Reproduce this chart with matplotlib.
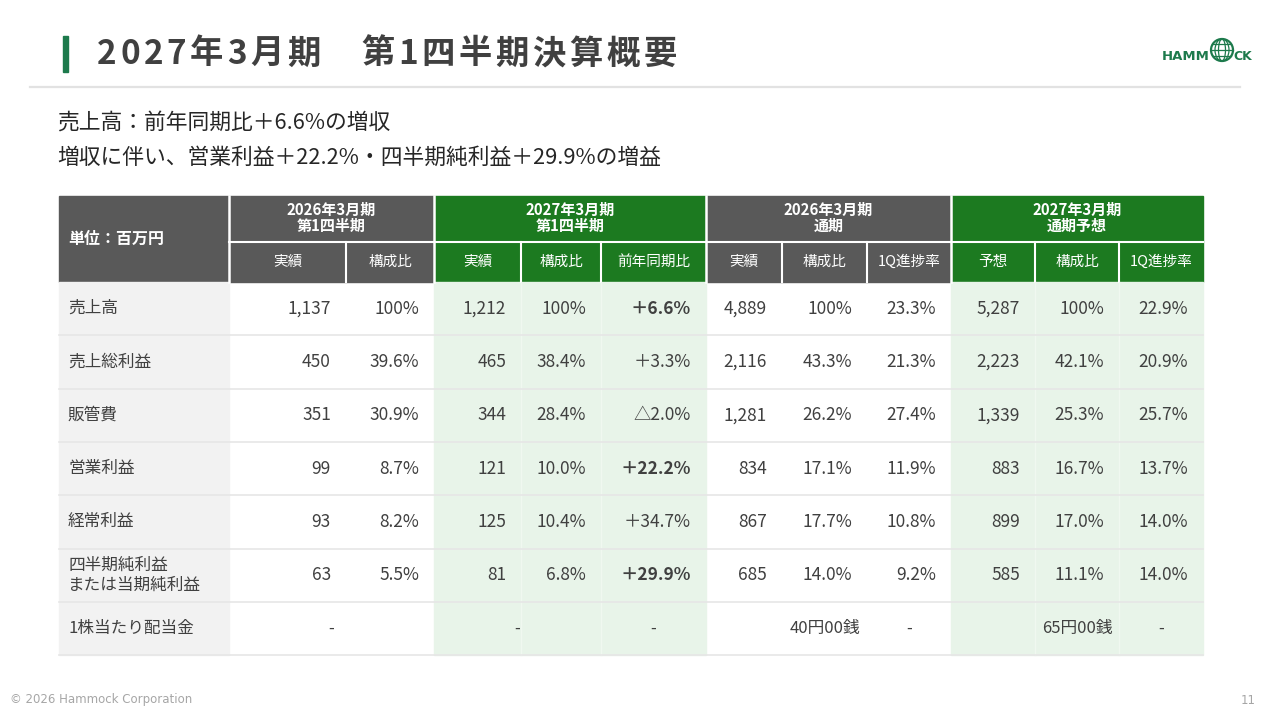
import matplotlib.pyplot as plt
from matplotlib.patches import Rectangle, Circle, Ellipse

plt.rcParams['font.family'] = ['Noto Sans CJK JP', 'DejaVu Sans']

# 表のデータ(単位:百万円)
row_labels = ['売上高', '売上総利益', '販管費', '営業利益', '経常利益',
              '四半期純利益\nまたは当期純利益', '1株当たり配当金']
q1_2026_actual = ['1,137', '450', '351', '99', '93', '63']
q1_2026_ratio = ['100%', '39.6%', '30.9%', '8.7%', '8.2%', '5.5%']
q1_2027_actual = ['1,212', '465', '344', '121', '125', '81']
q1_2027_ratio = ['100%', '38.4%', '28.4%', '10.0%', '10.4%', '6.8%']
q1_2027_yoy = ['＋6.6%', '＋3.3%', '△2.0%', '＋22.2%', '＋34.7%', '＋29.9%']
yoy_bold = [True, False, False, True, False, True]
fy2026_actual = ['4,889', '2,116', '1,281', '834', '867', '685']
fy2026_ratio = ['100%', '43.3%', '26.2%', '17.1%', '17.7%', '14.0%']
fy2026_progress = ['23.3%', '21.3%', '27.4%', '11.9%', '10.8%', '9.2%']
fy2027_forecast = ['5,287', '2,223', '1,339', '883', '899', '585']
fy2027_ratio = ['100%', '42.1%', '25.3%', '16.7%', '17.0%', '11.1%']
fy2027_progress = ['22.9%', '20.9%', '25.7%', '13.7%', '14.0%', '14.0%']
dividend_fy2026 = '40円00銭'
dividend_fy2027 = '65円00銭'

group_headers = ['2026年3月期\n第1四半期', '2027年3月期\n第1四半期',
                 '2026年3月期\n通期', '2027年3月期\n通期予想']
sub_headers = ['実績', '構成比', '実績', '構成比', '前年同期比',
               '実績', '構成比', '1Q進捗率', '予想', '構成比', '1Q進捗率']

title = '2027年3月期　第1四半期決算概要'
lead_lines = ['売上高：前年同期比＋6.6%の増収',
              '増収に伴い、営業利益＋22.2%・四半期純利益＋29.9%の増益']

# 色
DARK = '#404040'
GRAY_HEAD = '#595959'
GREEN_HEAD = '#1c7a20'
GREEN_LIGHT = '#e8f4e9'
LABEL_BG = '#f2f2f2'
ACCENT = '#1d7a4c'

fig = plt.figure(figsize=(12.8, 7.2), dpi=100)
ax = fig.add_axes([0, 0, 1, 1])
ax.set_xlim(0, 1280)
ax.set_ylim(720, 0)
ax.axis('off')

# タイトル部分
ax.add_patch(Rectangle((63, 36), 5, 36, color=ACCENT))
ax.plot([30, 1240], [87, 87], color='#e2e2e2', lw=1.6)

fig.canvas.draw()
renderer = fig.canvas.get_renderer()
x = 97
for ch in title:
    t = ax.text(x, 54, ch, fontsize=24, fontweight='bold', color=DARK,
                va='center', ha='left')
    w = t.get_window_extent(renderer).width
    x += w + 3.6

for i, line in enumerate(lead_lines):
    ax.text(57, 123 + i * 35, line, fontsize=15.7, color='#262626', va='center')

# ロゴ
ax.text(1162, 56, 'HAMM', fontsize=9.5, fontweight='bold', color=ACCENT,
        va='center', ha='left', family='DejaVu Sans')
ax.add_patch(Circle((1222, 50), 11, fill=False, ec=ACCENT, lw=1.6))
for wdt in [7, 14]:
    ax.add_patch(Ellipse((1222, 50), wdt, 22, fill=False, ec=ACCENT, lw=0.9))
for dy in [-6, 0, 6]:
    hw = (121 - dy * dy) ** 0.5
    ax.plot([1222 - hw, 1222 + hw], [50 + dy, 50 + dy], color=ACCENT, lw=0.9)
ax.text(1233, 56, 'CK', fontsize=9, fontweight='bold', color=ACCENT,
        va='center', ha='left', family='DejaVu Sans')

# 表のレイアウト
col_x = [59, 229, 346, 434, 521, 601, 706, 782, 867, 951, 1035, 1119, 1203]
group_cols = [(1, 3), (3, 6), (6, 9), (9, 12)]
group_colors = [GRAY_HEAD, GREEN_HEAD, GRAY_HEAD, GREEN_HEAD]
y_top, y_mid, y_body = 196, 242, 282
row_h = 53.3
n_rows = len(row_labels)
y_bottom = y_body + row_h * n_rows

# ヘッダー
ax.add_patch(Rectangle((col_x[0], y_top), col_x[1] - col_x[0], y_body - y_top,
                       color=GRAY_HEAD))
ax.text(68, (y_top + y_body) / 2, '単位：百万円', fontsize=11.5,
        fontweight='bold', color='white', va='center')
sub_i = 0
for (a, b), gtxt, gc in zip(group_cols, group_headers, group_colors):
    ax.add_patch(Rectangle((col_x[a], y_top), col_x[b] - col_x[a],
                           y_body - y_top, color=gc))
    ax.text((col_x[a] + col_x[b]) / 2, (y_top + y_mid) / 2 - 1, gtxt,
            fontsize=10.8, fontweight='bold', color='white', ha='center',
            va='center', linespacing=1.0)
    for c in range(a, b):
        ax.text((col_x[c] + col_x[c + 1]) / 2, (y_mid + y_body) / 2,
                sub_headers[sub_i], fontsize=10.5, color='white',
                ha='center', va='center')
        sub_i += 1

# ヘッダーの白線
ax.plot([col_x[1], col_x[-1]], [y_mid, y_mid], color='white', lw=1.5)
for a, b in group_cols:
    ax.plot([col_x[a], col_x[a]], [y_top, y_body], color='white', lw=1.8)
    for c in range(a + 1, b):
        ax.plot([col_x[c], col_x[c]], [y_mid, y_body], color='white', lw=1.5)

# 本体の背景
ax.add_patch(Rectangle((col_x[0], y_body), col_x[1] - col_x[0],
                       y_bottom - y_body, color=LABEL_BG))
for a, b in [(3, 6), (9, 12)]:
    ax.add_patch(Rectangle((col_x[a], y_body), col_x[b] - col_x[a],
                           y_bottom - y_body, color=GREEN_LIGHT))
    for c in range(a + 1, b):
        ax.plot([col_x[c], col_x[c]], [y_body, y_bottom], color='#f0f8f0',
                lw=1)
for r in range(1, n_rows + 1):
    yy = y_body + row_h * r
    ax.plot([col_x[0], col_x[-1]], [yy, yy], color='#e6e6e6', lw=1.2)

# 本体の値
columns = [q1_2026_actual, q1_2026_ratio, q1_2027_actual, q1_2027_ratio,
           q1_2027_yoy, fy2026_actual, fy2026_ratio, fy2026_progress,
           fy2027_forecast, fy2027_ratio, fy2027_progress]
pad = 15
for r, label in enumerate(row_labels):
    yc = y_body + row_h * (r + 0.5)
    ax.text(68, yc, label, fontsize=12, color=DARK, va='center',
            ha='left', linespacing=1.25)
    if r < len(q1_2026_actual):
        for c, vals in enumerate(columns):
            bold = c == 4 and yoy_bold[r]
            ax.text(col_x[c + 2] - pad, yc, vals[r], fontsize=12.5, color=DARK,
                    va='center', ha='right',
                    fontweight='bold' if bold else 'normal')

# 配当金の行
yc = y_body + row_h * (n_rows - 0.5)
cells = [((col_x[1] + col_x[3]) / 2, '-'), ((col_x[3] + col_x[5]) / 2, '-'),
         ((col_x[5] + col_x[6]) / 2, '-'),
         ((col_x[7] + col_x[8]) / 2, dividend_fy2026),
         ((col_x[8] + col_x[9]) / 2, '-'),
         ((col_x[10] + col_x[11]) / 2, dividend_fy2027),
         ((col_x[11] + col_x[12]) / 2, '-')]
for xc, txt in cells:
    ax.text(xc, yc, txt, fontsize=12, color=DARK, va='center', ha='center')

# フッター
ax.text(10, 700, '© 2026 Hammock Corporation', fontsize=8.5, color='#a6a6a6',
        va='center', ha='left', family=['DejaVu Sans'])
ax.text(1256, 700, '11', fontsize=8.5, color='#a6a6a6', va='center',
        ha='right', family=['DejaVu Sans'])

fig.savefig('out.png', dpi=100)
